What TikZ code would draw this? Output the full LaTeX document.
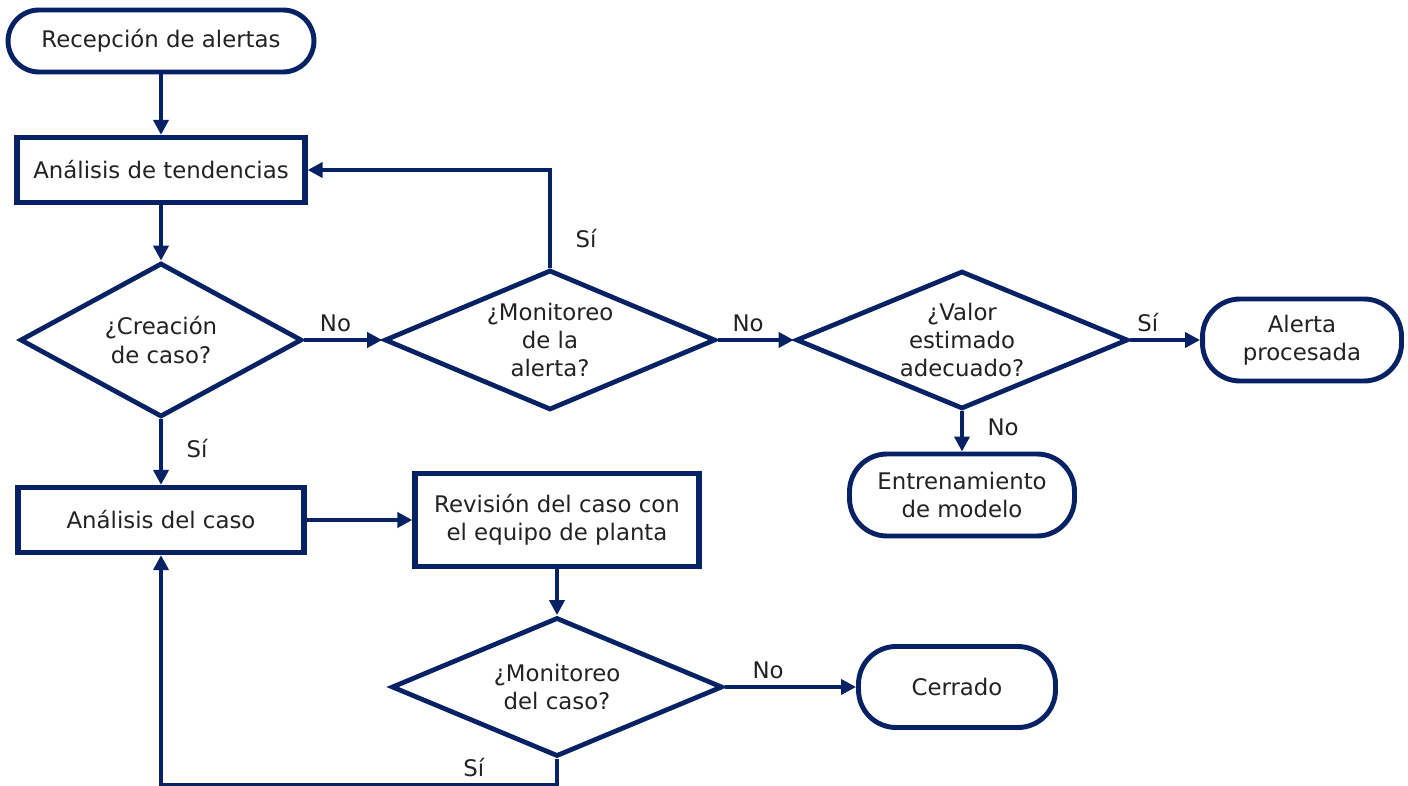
\documentclass[tikz,border=0pt]{standalone}
\usepackage{fontspec}
\setmainfont{DejaVu Sans}
\usetikzlibrary{shapes.geometric,arrows.meta}
\definecolor{navy}{RGB}{6,34,100}
\definecolor{txt}{RGB}{34,34,34}
\tikzset{
  flowline/.style={line width=2.6pt, draw=navy},
  arr/.style={flowline, -{Triangle[length=8.5pt,width=8.5pt]}},
  procbox/.style={draw=navy, line width=3pt, rectangle, align=center, text=txt},
  termbox/.style={draw=navy, line width=2.8pt, rectangle, rounded corners=0.75cm, align=center, text=txt},
  decbox/.style={draw=navy, line width=2.7pt, diamond, aspect=2, inner sep=0pt, align=center, text=txt},
  lbl/.style={text=txt}
}
\begin{document}
\begin{tikzpicture}[x=0.02cm, y=-0.02cm, font=\fontsize{13}{16}\selectfont]
\useasboundingbox (0,0) rectangle (1408,786);

% Left column
\node[termbox, minimum width=6.12cm, minimum height=1.24cm, rounded corners=0.62cm] (recep) at (161,41) {Recepción de alertas};
\node[procbox, minimum width=5.76cm, minimum height=1.30cm] (tend) at (161,170) {Análisis de tendencias};
\node[decbox, minimum width=5.64cm, minimum height=3.08cm] (creac) at (161,340) {¿Creación\\de caso?};
\node[procbox, minimum width=5.72cm, minimum height=1.30cm] (caso) at (161,520) {Análisis del caso};

% Alert branch
\node[decbox, minimum width=6.62cm, minimum height=2.80cm] (monal) at (550,340) {¿Monitoreo\\de la\\alerta?};
\node[decbox, minimum width=6.64cm, minimum height=2.76cm] (valor) at (962,340) {¿Valor\\estimado\\adecuado?};
\node[termbox, minimum width=3.98cm, minimum height=1.64cm] (proces) at (1302,340) {Alerta\\procesada};
\node[termbox, minimum width=4.50cm, minimum height=1.64cm] (entren) at (962,495) {Entrenamiento\\de modelo};

% Case branch
\node[procbox, minimum width=5.68cm, minimum height=1.86cm] (revis) at (557,520) {Revisión del caso con\\el equipo de planta};
\node[decbox, minimum width=6.62cm, minimum height=2.78cm] (moncs) at (557,687) {¿Monitoreo\\del caso?};
\node[termbox, minimum width=3.94cm, minimum height=1.62cm] (cerr) at (957,687) {Cerrado};

% Connectors
\draw[arr] (recep.south) -- (tend.north);
\draw[arr] (tend.south) -- (creac.north);
\draw[arr] (creac.east) -- node[lbl, above, pos=0.4] {No} (monal.west);
\draw[arr] (monal.north) |- node[lbl, right=0.35cm, pos=0.15] {Sí} (tend.east);
\draw[arr] (monal.east) -- node[lbl, above, pos=0.4] {No} (valor.west);
\draw[arr] (valor.east) -- node[lbl, above, pos=0.25] {Sí} (proces.west);
\draw[arr] (valor.south) -- node[lbl, right=0.35cm, pos=0.4] {No} (entren.north);
\draw[arr] (creac.south) -- node[lbl, right=0.35cm, pos=0.45] {Sí} (caso.north);
\draw[arr] (caso.east) -- (revis.west);
\draw[arr] (revis.south) -- (moncs.north);
\draw[arr] (moncs.east) -- node[lbl, above, pos=0.33] {No} (cerr.west);
\draw[arr] (moncs.south) -- ++(0,26) -| node[lbl, above, pos=0.105] {Sí} (caso.south);
\end{tikzpicture}
\end{document}
